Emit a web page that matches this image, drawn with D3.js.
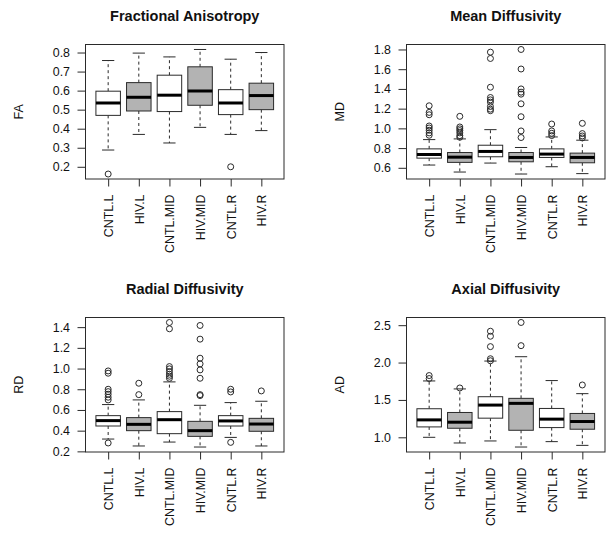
<!DOCTYPE html>
<html><head><meta charset="utf-8">
<script src="https://cdn.jsdelivr.net/npm/d3@7"></script>
<style>body{margin:0;background:#fff}svg{display:block}</style>
</head><body>
<script>
// ---------- data ----------
const categories = ["CNTL.L","HIV.L","CNTL.MID","HIV.MID","CNTL.R","HIV.R"];
const groupIsHIV = [false,true,false,true,false,true];

// each row: [lower whisker, Q1, median, Q3, upper whisker]
const faStats = [
  [0.288,0.470,0.535,0.597,0.758],
  [0.370,0.493,0.565,0.642,0.797],
  [0.325,0.490,0.576,0.681,0.777],
  [0.407,0.523,0.598,0.725,0.816],
  [0.370,0.474,0.535,0.605,0.765],
  [0.390,0.500,0.574,0.639,0.800]
];
const faOutliers = [[0.162],[],[],[],[0.200],[]];
const faTicks = [0.2,0.3,0.4,0.5,0.6,0.7,0.8];

const mdStats = [
  [0.628,0.698,0.735,0.792,0.886],
  [0.557,0.655,0.708,0.755,0.893],
  [0.648,0.712,0.766,0.829,0.987],
  [0.537,0.661,0.705,0.755,0.806],
  [0.611,0.705,0.739,0.792,0.913],
  [0.541,0.651,0.705,0.749,0.880]
];
const mdOutliers = [
  [1.229,1.162,1.138,1.024,1.004,0.981,0.954,0.930],
  [1.122,1.014,0.995,0.977,0.954,0.927,0.910],
  [1.773,1.709,1.417,1.313,1.289,1.266,1.222,1.195,1.179],
  [1.800,1.602,1.400,1.367,1.347,1.249,1.118,0.974,0.907],
  [1.044,0.974,0.950,0.927],
  [1.051,0.947,0.923,0.903]
];
const mdTicks = [0.6,0.8,1.0,1.2,1.4,1.6,1.8];

const rdStats = [
  [0.319,0.445,0.497,0.545,0.652],
  [0.252,0.400,0.461,0.526,0.697],
  [0.290,0.371,0.506,0.584,0.871],
  [0.242,0.345,0.400,0.490,0.645],
  [0.335,0.445,0.494,0.545,0.671],
  [0.252,0.394,0.464,0.519,0.684]
];
const rdOutliers = [
  [0.977,0.955,0.800,0.777,0.752,0.723,0.697,0.281],
  [0.858,0.748],
  [1.445,1.384,1.019,0.997,0.971,0.945,0.926,0.906],
  [1.416,1.284,1.100,1.045,0.987,0.906,0.748,0.739],
  [0.800,0.774,0.287],
  [0.784]
];
const rdTicks = [0.2,0.4,0.6,0.8,1.0,1.2,1.4];

const adStats = [
  [1.000,1.139,1.233,1.382,1.754],
  [0.924,1.121,1.202,1.332,1.647],
  [0.951,1.256,1.431,1.543,2.020],
  [0.870,1.094,1.454,1.521,2.078],
  [0.942,1.130,1.243,1.386,1.759],
  [0.892,1.108,1.211,1.319,1.584]
];
const adOutliers = [
  [1.826,1.786],
  [1.660],
  [2.419,2.352,2.213,2.051,2.024],
  [2.536,2.226],
  [],
  [1.700]
];
const adTicks = [1.0,1.5,2.0,2.5];

const titles = ["Fractional Anisotropy","Mean Diffusivity","Radial Diffusivity","Axial Diffusivity"];
const yLabels = ["FA","MD","RD","AD"];

// ---------- layout ----------
const W = 614, H = 535;
const colLeft = [85.5, 406.5];
const rowTop = [44.5, 317.5];
const plotW = 198.5, plotH = 134.5;
const FONT = "'Liberation Sans', Arial, Helvetica, sans-serif";
const LINE = "#2a2a2a";

const panels = [
  {stats: faStats, outliers: faOutliers, ticks: faTicks, title: titles[0], ylab: yLabels[0], col:0, row:0},
  {stats: mdStats, outliers: mdOutliers, ticks: mdTicks, title: titles[1], ylab: yLabels[1], col:1, row:0},
  {stats: rdStats, outliers: rdOutliers, ticks: rdTicks, title: titles[2], ylab: yLabels[2], col:0, row:1},
  {stats: adStats, outliers: adOutliers, ticks: adTicks, title: titles[3], ylab: yLabels[3], col:1, row:1}
];

const svg = d3.select("body").append("svg")
  .attr("width", W).attr("height", H)
  .style("background", "#fff");

panels.forEach(p => {
  const x0 = colLeft[p.col], y0 = rowTop[p.row];
  const g = svg.append("g").attr("transform", `translate(${x0},${y0})`);

  // y domain like R: data range extended by 4%
  const all = p.stats.flatMap((s,i) => [s[0], s[4], ...p.outliers[i]]);
  const [mn, mx] = d3.extent(all);
  const pad = (mx - mn) * 0.04;
  const y = d3.scaleLinear().domain([mn - pad, mx + pad]).range([plotH, 0]);
  const x = d3.scalePoint().domain(categories).range([0, plotW]).padding(0.74);
  const step = x.step();
  const bw = step * 0.8;
  const sw = bw * 0.5;

  // title
  svg.append("text")
    .attr("x", x0 + plotW / 2).attr("y", y0 - 23.5)
    .attr("text-anchor", "middle")
    .attr("font-family", FONT).attr("font-weight", "bold")
    .attr("font-size", "14.5px").attr("fill", "#111")
    .text(p.title);

  // y label
  svg.append("text")
    .attr("transform", `translate(${x0 - 66.5},${y0 + plotH / 2}) rotate(-90)`)
    .attr("text-anchor", "middle").attr("dy", "0.35em")
    .attr("font-family", FONT).attr("font-size", "12.5px").attr("fill", "#111")
    .text(p.ylab);

  // y axis
  const yAxis = d3.axisLeft(y).tickValues(p.ticks).tickFormat(d3.format(".1f")).tickSize(8).tickPadding(7.5);
  const ya = g.append("g").call(yAxis);
  ya.select(".domain").remove();
  ya.selectAll("line").attr("stroke", LINE);
  ya.selectAll("text").attr("font-family", FONT).attr("font-size", "12.4px").attr("fill", "#111");

  // x axis
  const xAxis = d3.axisBottom(x).tickSize(7.5).tickPadding(0);
  const xa = g.append("g").attr("transform", `translate(0,${plotH})`).call(xAxis);
  xa.select(".domain").remove();
  xa.selectAll("line").attr("stroke", LINE);
  xa.selectAll("text")
    .attr("font-family", FONT).attr("font-size", "12.4px").attr("fill", "#111")
    .attr("text-anchor", "end")
    .attr("transform", "translate(0,15.5) rotate(-90)")
    .attr("x", 0).attr("y", 0).attr("dy", "0.35em");

  // boxes
  const groups = g.selectAll("g.box").data(p.stats).enter().append("g").attr("class", "box");
  groups.each(function(s, i) {
    const gg = d3.select(this);
    const cx = x(categories[i]);
    // whiskers dashed
    gg.append("line").attr("x1", cx).attr("x2", cx).attr("y1", y(s[3])).attr("y2", y(s[4]))
      .attr("stroke", LINE).attr("stroke-dasharray", "3,3");
    gg.append("line").attr("x1", cx).attr("x2", cx).attr("y1", y(s[1])).attr("y2", y(s[0]))
      .attr("stroke", LINE).attr("stroke-dasharray", "3,3");
    // staples
    [s[0], s[4]].forEach(v => {
      gg.append("line").attr("x1", cx - sw / 2).attr("x2", cx + sw / 2)
        .attr("y1", y(v)).attr("y2", y(v)).attr("stroke", LINE);
    });
    // box
    gg.append("rect").attr("x", cx - bw / 2).attr("width", bw)
      .attr("y", y(s[3])).attr("height", y(s[1]) - y(s[3]))
      .attr("fill", groupIsHIV[i] ? "#b3b3b3" : "#ffffff")
      .attr("stroke", LINE).attr("stroke-width", 1);
    // median
    gg.append("line").attr("x1", cx - bw / 2).attr("x2", cx + bw / 2)
      .attr("y1", y(s[2])).attr("y2", y(s[2]))
      .attr("stroke", "#000").attr("stroke-width", 3);
    // outliers
    gg.selectAll("circle").data(p.outliers[i]).enter().append("circle")
      .attr("cx", cx).attr("cy", d => y(d)).attr("r", 3)
      .attr("fill", "none").attr("stroke", LINE).attr("stroke-width", 1);
  });

  // frame
  g.append("rect").attr("x", 0).attr("y", 0).attr("width", plotW).attr("height", plotH)
    .attr("fill", "none").attr("stroke", LINE).attr("stroke-width", 1);
});
</script>
</body></html>
